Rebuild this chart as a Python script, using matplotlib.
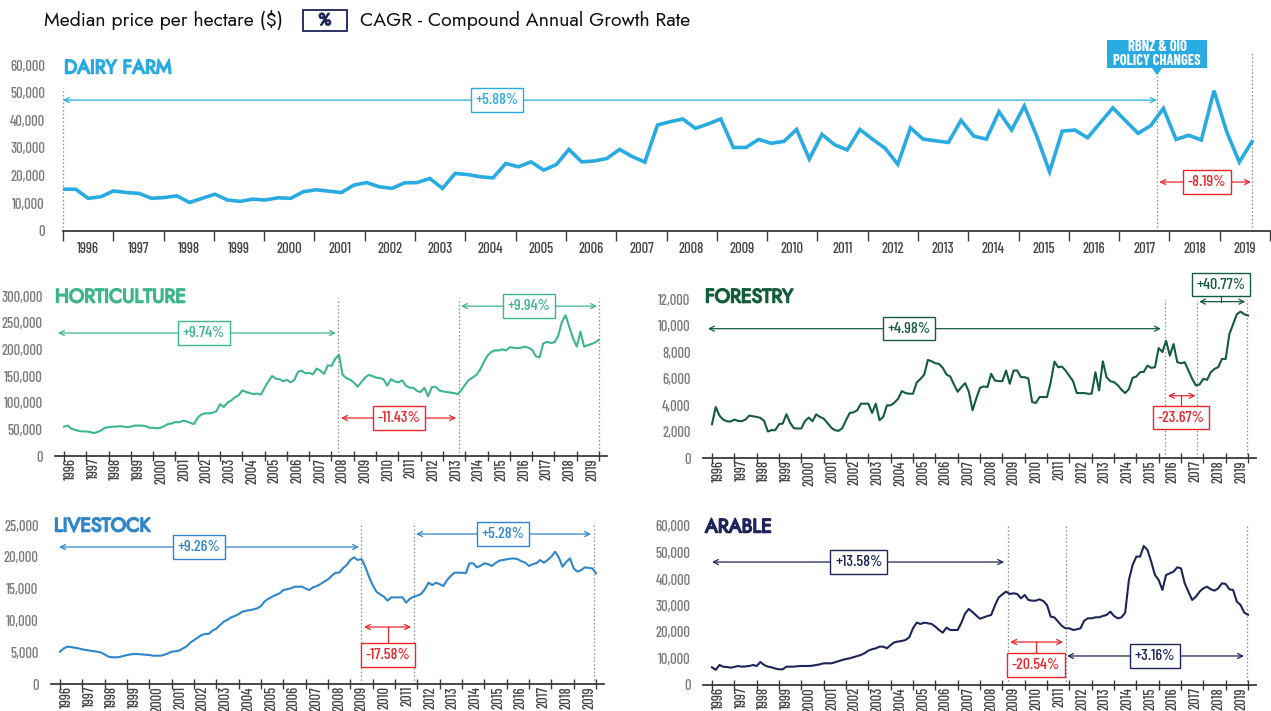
import matplotlib
matplotlib.use("Agg")
import matplotlib.pyplot as plt
import matplotlib.patheffects as pe
import numpy as np
from matplotlib.patches import Polygon, Rectangle

W, H = 1271, 711

# ---------------- data ----------------
# dairy farm: quarterly medians, first point Q1 1996
dairy_prices = [
    15100, 15100, 11800, 12400, 14500, 13900, 13600, 11800, 12100, 12700,
    10300, 11800, 13300, 11200, 10700, 11500, 11200, 12000, 11800, 14200,
    14900, 14400, 13900, 16600, 17500, 16000, 15400, 17400, 17500, 19000,
    15400, 20800, 20400, 19600, 19200, 24400, 23200, 25000, 22000, 24000,
    29500, 25000, 25300, 26200, 29500, 26900, 24900, 38300, 39500, 40500,
    37100, 38700, 40500, 30200, 30200, 33100, 31700, 32400, 36700, 26000,
    34900, 31200, 29300, 36700, 33200, 29900, 24100, 37300, 33200, 32600,
    32000, 40000, 34300, 33200, 43100, 36500, 45200, 34100, 21400, 36100,
    36500, 33700, 39100, 44500, 39900, 35300, 38100, 44300, 33100, 34600,
    32900, 50700, 35900, 24900, 32300,
]

# other land uses: one value every two months, Jan 1996 .. Jan 2020
hort_prices_k = [
    55, 57, 51, 49, 47, 46,
    46, 45, 43, 45, 48, 53,
    54, 55, 55, 56, 55, 54,
    55, 57, 57, 57, 56, 53,
    53, 52, 53, 56, 60, 61,
    64, 63, 66, 65, 62, 60,
    72, 78, 80, 80, 81, 84,
    97, 92, 100, 104, 110, 114,
    123, 120, 118, 116, 117, 115,
    128, 140, 150, 145, 144, 140,
    143, 138, 143, 158, 160, 155,
    156, 153, 164, 160, 154, 170,
    169, 182, 190, 152, 146, 143,
    138, 130, 138, 147, 152, 150,
    147, 146, 144, 132, 144, 140,
    138, 142, 132, 128, 128, 122,
    120, 128, 112, 129, 130, 123,
    121, 120, 119, 118, 116, 124,
    134, 143, 147, 152, 162, 176,
    188, 195, 198, 198, 200, 198,
    204, 203, 202, 203, 205, 203,
    199, 187, 185, 211, 214, 212,
    213, 225, 251, 264, 242, 221,
    205, 233, 205, 208, 210, 213,
    218,
]

forestry_prices = [
    2550, 3850, 3200, 2900, 2775, 2750,
    2900, 2800, 2775, 2900, 3200, 3150,
    3100, 3025, 2800, 2000, 2100, 2100,
    2550, 2600, 3300, 2650, 2250, 2225,
    2225, 2800, 3050, 2775, 3300, 3100,
    2975, 2650, 2300, 2100, 2050, 2250,
    2850, 3400, 3450, 3600, 4100, 4100,
    4100, 3400, 4100, 2850, 3100, 3975,
    3975, 4175, 4475, 5050, 4900, 4850,
    4850, 5700, 5975, 6275, 7400, 7300,
    7150, 7100, 6800, 6300, 6150, 5550,
    5000, 5350, 5650, 5000, 3600, 4500,
    5300, 5400, 5350, 6350, 5850, 5800,
    5800, 6600, 5600, 6600, 6600, 6100,
    6100, 6000, 4225, 4150, 4600, 4600,
    4600, 5725, 7275, 6850, 6900, 6600,
    6200, 5800, 4900, 4900, 4900, 4850,
    4850, 6475, 5100, 7300, 6100, 5800,
    5725, 5500, 5150, 4900, 5200, 6050,
    6150, 6475, 6500, 6975, 6800, 6850,
    8300, 8000, 8850, 7725, 8600, 7225,
    7150, 7225, 6600, 5975, 5475, 5550,
    5975, 5900, 6475, 6725, 6850, 7475,
    7475, 9350, 10100, 10850, 11050, 10850,
    10750,
]

livestock_prices = [
    5080, 5600, 5870, 5800, 5700, 5600,
    5450, 5350, 5250, 5150, 5080, 4950,
    4660, 4300, 4200, 4190, 4250, 4400,
    4560, 4650, 4720, 4700, 4660, 4600,
    4560, 4450, 4450, 4450, 4600, 4800,
    5080, 5150, 5240, 5600, 5900, 6500,
    6900, 7300, 7700, 7850, 7900, 8400,
    8700, 9270, 9800, 10100, 10480, 10690,
    11000, 11370, 11530, 11600, 11740, 11900,
    12260, 13000, 13400, 13730, 14000, 14250,
    14780, 14900, 15040, 15300, 15300, 15300,
    15000, 14780, 15200, 15410, 15720, 16100,
    16450, 17000, 17500, 17500, 18200, 18700,
    19490, 19910, 19500, 19650, 18450, 16870,
    15560, 14510, 14100, 13730, 13100, 13620,
    13620, 13620, 13620, 12790, 13400, 13730,
    13900, 14150, 14880, 15930, 15560, 15930,
    15700, 15410, 16350, 17000, 17500, 17500,
    17500, 17400, 18970, 18970, 18340, 18600,
    18970, 18860, 18550, 19000, 19390, 19500,
    19600, 19700, 19750, 19600, 19300, 19070,
    18550, 18860, 19000, 19490, 19070, 19500,
    20020, 20800, 19910, 18450, 19200, 19750,
    18180, 17660, 17900, 18340, 18250, 18180,
    17400,
]

arable_prices = [
    6670, 5700, 7550, 6900, 6800, 6540,
    6800, 7170, 6920, 7000, 7170, 7550,
    7170, 8680, 7550, 6920, 6670, 6200,
    5920, 5920, 6900, 6920, 6920, 7100,
    7170, 7170, 7170, 7300, 7550, 7800,
    8180, 8180, 8180, 8550, 9000, 9440,
    9800, 10070, 10500, 10950, 11330, 12000,
    12960, 13500, 13840, 14470, 14470, 13840,
    15100, 16110, 16400, 16610, 17000, 18000,
    21400, 23530, 23030, 23530, 23300, 23030,
    22020, 20760, 19750, 21640, 20760, 20760,
    20760, 23500, 27000, 28690, 27500, 26200,
    25000, 25500, 26040, 26420, 30000, 33000,
    34200, 35230, 34350, 34600, 34350, 32710,
    33970, 32080, 31830, 31830, 32330, 31700,
    30200, 25790, 25500, 23910, 22270, 21390,
    21390, 20760, 21010, 21390, 24280, 25160,
    25160, 25540, 25540, 26040, 26420, 27680,
    26040, 25160, 25540, 27300, 39630, 45290,
    48440, 48440, 52460, 50950, 46550, 41520,
    39630, 35860, 41520, 42150, 42780, 44410,
    44030, 38380, 35230, 32080, 33340, 35230,
    36480, 37110, 36110, 35610, 36480, 38380,
    38130, 36110, 35860, 31450, 30200, 27300,
    26500,
]

years = np.arange(1996, 2020)

DAIRY = "#29abe2"
HORT = "#3db68c"
FOREST = "#155b3d"
LIVE = "#2f86c8"
ARABLE = "#1d2459"
RED = "#e8262b"
GREY = "#8c8c8c"
AXIS = "#3a3a3a"

NARROW = ["Barlow Condensed", "DejaVu Sans"]
HEAD = ["Jost", "Lato", "DejaVu Sans"]


def fx(px):
    return px / W


def fy(py):
    return 1 - py / H


def narrow(t, size, weight=500):
    t.set_family(NARROW)
    t.set_stretch("condensed")
    t.set_weight(weight)
    t.set_fontsize(size)


def heavy(t, color, width=1.1):
    # Jost is installed with one weight only, so thicken it with a stroke
    t.set_path_effects([pe.withStroke(linewidth=width, foreground=color)])


def panel(fig, px1996, px2020, xlim, py_zero, py_top, ytop):
    ppy = (px2020 - px1996) / 24
    left = px1996 + (xlim[0] - 1996) * ppy
    right = px1996 + (xlim[1] - 1996) * ppy
    ax = fig.add_axes([fx(left), fy(py_zero), (right - left) / W, (py_zero - py_top) / H])
    ax.set_xlim(*xlim)
    ax.set_ylim(0, ytop)
    ax.patch.set_alpha(0)
    for side in ("left", "right", "top"):
        ax.spines[side].set_visible(False)
    ax.spines["bottom"].set_color(AXIS)
    ax.spines["bottom"].set_linewidth(1.3)
    return ax


def y_labels(ax, ticks, pad):
    ax.set_yticks(ticks)
    ax.set_yticklabels([f"{t:,}" for t in ticks], color="#7a7a7a")
    for t in ax.get_yticklabels():
        narrow(t, 10.5)
    ax.tick_params(axis="y", length=0, pad=pad)


def x_labels_rotated(ax):
    ax.set_xticks(np.arange(1996, 2021))
    ax.set_xticklabels([])
    pos = years + 0.3 + (years - 1996) * 0.017
    ax.set_xticks(pos, [str(y) for y in years], minor=True)
    ax.tick_params(axis="x", which="major", direction="inout", length=7, width=1, color=AXIS)
    ax.tick_params(axis="x", which="minor", length=0, pad=1.5, labelrotation=90,
                   labelcolor="#444444")
    for t in ax.get_xticklabels(minor=True):
        narrow(t, 10.5)


def vline(ax, x, ytop):
    ax.plot([x, x], [0, ytop], color=GREY, lw=0.9, ls=(0, (1.2, 1.8)), clip_on=False, zorder=1)


def cagr(ax, x0, x1, y, label, color, bx, by=None):
    ax.annotate("", xy=(x0, y), xytext=(x1, y),
                arrowprops=dict(arrowstyle="<->", color=color, lw=0.9, shrinkA=0, shrinkB=0,
                                mutation_scale=9),
                annotation_clip=False)
    ty = y
    if by is not None:
        ax.plot([bx, bx], [y, by], color=color, lw=0.9, clip_on=False)
        ty = by
    t = ax.text(bx, ty, label, ha="center", va="center", color=color,
                bbox=dict(boxstyle="square,pad=0.3", fc="white", ec=color, lw=1.0),
                zorder=5, clip_on=False)
    narrow(t, 11.5)


def title(fig, px, py, text, color):
    t = fig.text(fx(px), fy(py), text, color=color, family=HEAD, fontsize=14,
                 ha="left", va="center")
    heavy(t, color)


fig = plt.figure(figsize=(W / 100, H / 100), dpi=100)

# ---------------- header ----------------
fig.text(fx(44), fy(20), "Median price per hectare ($)", family=HEAD,
         fontsize=14, ha="left", va="center", color="#111111")
fig.patches.append(Rectangle((fx(303), fy(31)), 44 / W, 21 / H, transform=fig.transFigure,
                             fill=False, ec=ARABLE, lw=1.3))
t = fig.text(fx(325), fy(20.5), "%", family=HEAD, fontsize=12,
             ha="center", va="center", color=ARABLE)
heavy(t, ARABLE, 1.0)
fig.text(fx(360), fy(20), "CAGR - Compound Annual Growth Rate", family=HEAD,
         fontsize=14, ha="left", va="center", color="#111111")

# ---------------- dairy farm ----------------
ax = panel(fig, 63, 1270, (1996, 2020), 231, 65, 60000)
dairy_x = 1996 + np.arange(len(dairy_prices)) * 0.2515
ax.plot(dairy_x, dairy_prices, color=DAIRY, lw=2.6, solid_joinstyle="miter", zorder=3)
y_labels(ax, list(range(0, 60001, 10000)), 13)
ax.set_xticks(np.arange(1996, 2021))
ax.set_xticklabels([])
ax.set_xticks(years + 0.5, [str(y) for y in years], minor=True)
ax.tick_params(axis="x", which="major", direction="out", length=7, width=1, color=AXIS)
ax.tick_params(axis="x", which="minor", length=0, pad=8, labelcolor="#444444")
for t in ax.get_xticklabels(minor=True):
    narrow(t, 10.5)
vline(ax, 1996.0, 51700)
vline(ax, 2017.75, 57500)
vline(ax, 2019.64, 64700)
cagr(ax, 1996.0, 2017.75, 47300, "+5.88%", DAIRY, 2004.63)
cagr(ax, 2017.8, 2019.62, 17700, "-8.19%", RED, 2018.74)
title(fig, 64, 68, "DAIRY FARM", DAIRY)

fig.patches.append(Rectangle((fx(1107), fy(68)), 100 / W, 28 / H, transform=fig.transFigure,
                             fc=DAIRY, ec="none", zorder=4))
fig.patches.append(Polygon([(fx(1151), fy(67)), (fx(1163), fy(67)), (fx(1157), fy(75))],
                           closed=True, transform=fig.transFigure, fc=DAIRY, ec="none"))
t = fig.text(fx(1157), fy(54), "RBNZ & OIO\nPOLICY CHANGES", color="white", ha="center",
             va="center", linespacing=1.0, zorder=6)
narrow(t, 10.5, "bold")

# ---------------- horticulture ----------------
xl = (1995.6, 2020.35)
ax = panel(fig, 64, 599, xl, 456, 296, 300000)
mx = 1996 + np.arange(len(hort_prices_k)) / 6
ax.plot(mx, np.array(hort_prices_k) * 1000, color=HORT, lw=1.5, zorder=3)
y_labels(ax, list(range(0, 300001, 50000)), 9)
x_labels_rotated(ax)
for x in (2008.29, 2013.72, 2020.0):
    vline(ax, x, 296000)
cagr(ax, 1995.73, 2008.2, 230600, "+9.74%", HORT, 2002.28)
cagr(ax, 2008.43, 2013.59, 71250, "-11.43%", RED, 2011.03)
cagr(ax, 2013.81, 2019.91, 281000, "+9.94%", HORT, 2016.86)
title(fig, 55, 297, "HORTICULTURE", HORT)

# ---------------- forestry ----------------
ax = panel(fig, 712, 1248, xl, 458, 299, 12000)
mx = 1996 + np.arange(len(forestry_prices)) / 6
ax.plot(mx, forestry_prices, color=FOREST, lw=1.5, zorder=3)
y_labels(ax, list(range(0, 12001, 2000)), 9)
x_labels_rotated(ax)
for x in (2016.3, 2017.72, 2019.94):
    vline(ax, x, 11950)
cagr(ax, 1995.82, 2016.1, 9760, "+4.98%", FOREST, 2004.82)
cagr(ax, 2016.42, 2017.65, 4700, "-23.67%", RED, 2017.0, 3050)
cagr(ax, 2017.81, 2019.88, 11800, "+40.77%", FOREST, 2018.79, 13080)
title(fig, 705, 297, "FORESTRY", FOREST)

# ---------------- livestock ----------------
ax = panel(fig, 60, 596, xl, 684, 525, 25000)
mx = 1996 + np.arange(len(livestock_prices)) / 6
ax.plot(mx, livestock_prices, color=LIVE, lw=1.5, zorder=3)
y_labels(ax, list(range(0, 25001, 5000)), 9)
x_labels_rotated(ax)
for x in (2009.48, 2011.85, 2019.91):
    vline(ax, x, 25000)
cagr(ax, 1995.96, 2009.39, 21540, "+9.26%", LIVE, 2002.22)
cagr(ax, 2009.61, 2011.72, 8960, "-17.58%", RED, 2010.69, 4560)
cagr(ax, 2011.94, 2019.78, 23580, "+5.28%", LIVE, 2015.84)
title(fig, 54, 526, "LIVESTOCK", LIVE)

# ---------------- arable ----------------
ax = panel(fig, 712, 1248, xl, 685, 526, 60000)
mx = 1996 + np.arange(len(arable_prices)) / 6
ax.plot(mx, arable_prices, color=ARABLE, lw=1.5, zorder=3)
y_labels(ax, list(range(0, 60001, 10000)), 9)
x_labels_rotated(ax)
for x in (2009.26, 2011.85, 2019.96):
    vline(ax, x, 60000)
cagr(ax, 1996.0, 2009.08, 46400, "+13.58%", ARABLE, 2002.58)
cagr(ax, 2009.35, 2011.72, 16230, "-20.54%", RED, 2010.5, 7550)
cagr(ax, 2011.9, 2019.82, 10950, "+3.16%", ARABLE, 2015.84)
title(fig, 705, 527, "ARABLE", ARABLE)

fig.savefig("out.png", dpi=100)
